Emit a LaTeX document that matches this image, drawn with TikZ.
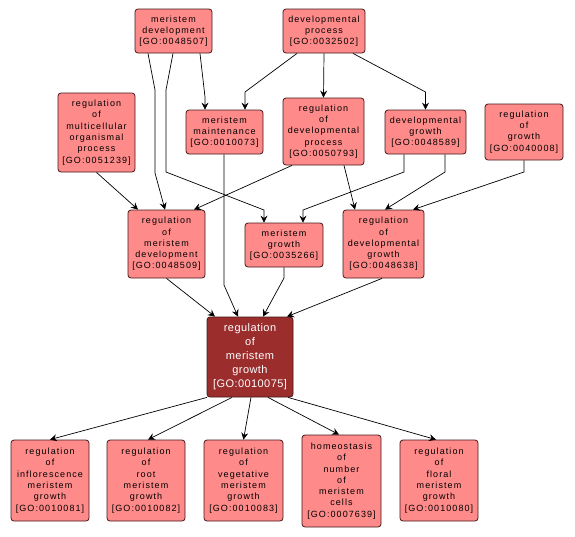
\documentclass[tikz,border=0pt]{standalone}
\usepackage{fontspec}
\usepackage{tikz}
\usepackage{xcolor}
\usetikzlibrary{arrows.meta}
\newfontfamily\gofont[LetterSpace=12]{Liberation Sans}
\newfontfamily\gofocus[LetterSpace=4]{Liberation Sans}
\definecolor{termfill}{RGB}{255,138,138}
\definecolor{focusfill}{RGB}{155,45,45}
\definecolor{termline}{RGB}{70,25,25}
\tikzset{
  term/.style={rectangle, rounded corners=3pt, fill=termfill, draw=termline, line width=0.8pt,
    inner sep=0pt, align=center, font=\gofont\fontsize{9}{11.3}\selectfont},
  focus/.style={term, fill=focusfill, text=white, font=\gofocus\fontsize{11}{14}\selectfont},
  link/.style={-{Stealth[length=7pt,width=7pt,inset=2.5pt]}, line width=0.7pt}
}
\begin{document}
\begin{tikzpicture}[x=1pt,y=-1pt]
\useasboundingbox[fill=white] (0,0) rectangle (575,536);
% top row
\node[term, minimum width=77pt, minimum height=44pt] (go48507) at (173.5,31) {meristem\\development\\{[GO:0048507]}};
\node[term, minimum width=82pt, minimum height=44pt] (go32502) at (324,31) {developmental\\process\\{[GO:0032502]}};
% second row
\node[term, minimum width=77pt, minimum height=79pt] (go51239) at (96.5,132.5) {regulation\\of\\multicellular\\organismal\\process\\{[GO:0051239]}};
\node[term, minimum width=77pt, minimum height=44pt] (go10073) at (224.5,132) {meristem\\maintenance\\{[GO:0010073]}};
\node[term, minimum width=81pt, minimum height=67pt] (go50793) at (323.5,131.5) {regulation\\of\\developmental\\process\\{[GO:0050793]}};
\node[term, minimum width=81pt, minimum height=44pt] (go48589) at (425.5,132) {developmental\\growth\\{[GO:0048589]}};
\node[term, minimum width=78pt, minimum height=56pt] (go40008) at (524,132) {regulation\\of\\growth\\{[GO:0040008]}};
% third row
\node[term, minimum width=77pt, minimum height=68pt] (go48509) at (166.5,244) {regulation\\of\\meristem\\development\\{[GO:0048509]}};
\node[term, minimum width=78pt, minimum height=44pt] (go35266) at (284,245) {meristem\\growth\\{[GO:0035266]}};
\node[term, minimum width=81pt, minimum height=68pt] (go48638) at (383.5,244) {regulation\\of\\developmental\\growth\\{[GO:0048638]}};
% the term itself
\node[focus, minimum width=86pt, minimum height=80pt] (go10075) at (250,357) {regulation\\of\\meristem\\growth\\{[GO:0010075]}};
% children
\node[term, minimum width=78pt, minimum height=81pt] (go10081) at (50,480.5) {regulation\\of\\inflorescence\\meristem\\growth\\{[GO:0010081]}};
\node[term, minimum width=78pt, minimum height=81pt] (go10082) at (146,480.5) {regulation\\of\\root\\meristem\\growth\\{[GO:0010082]}};
\node[term, minimum width=79pt, minimum height=81pt] (go10083) at (243.5,480.5) {regulation\\of\\vegetative\\meristem\\growth\\{[GO:0010083]}};
\node[term, minimum width=79pt, minimum height=92pt] (go07639) at (341.5,481) {homeostasis\\of\\number\\of\\meristem\\cells\\{[GO:0007639]}};
\node[term, minimum width=78pt, minimum height=81pt] (go10080) at (439,480.5) {regulation\\of\\floral\\meristem\\growth\\{[GO:0010080]}};

% edges
\draw[link] ([xshift=-25.5pt]go48507.south) -- (155,90) -- (155,173) -- ([xshift=-1.5pt]go48509.north);
\draw[link] ([xshift=-0.5pt]go48507.south) -- (166,90) -- (166,172) -- (264,210) -- ([xshift=-20pt]go35266.north);
\draw[link] ([xshift=26.5pt]go48507.south) -- (205,97) -- ([xshift=-19.5pt]go10073.north);
\draw[link] ([xshift=-27pt]go32502.south) -- (245,92) -- ([xshift=20.5pt]go10073.north);
\draw[link] (go32502.south) -- (go50793.north);
\draw[link] ([xshift=29pt]go32502.south) -- (425.5,92) -- (go48589.north);
\draw[link] (go51239.south) -- ([xshift=-28.5pt]go48509.north);
\draw[link] ([xshift=-31.5pt]go50793.south) -- ([xshift=27.5pt]go48509.north);
\draw[link] ([xshift=20.5pt]go50793.south) -- ([xshift=-28.5pt]go48638.north);
\draw[link] ([xshift=-21.5pt]go48589.south) -- (404,172) -- (303,210) -- ([xshift=19pt]go35266.north);
\draw[link] ([xshift=19.5pt]go48589.south) -- (445,172) -- ([xshift=1.5pt]go48638.north);
\draw[link] (go40008.south) -- (524,172) -- ([xshift=29.5pt]go48638.north);
\draw[link] ([xshift=-0.5pt]go10073.south) -- (224,285) -- ([xshift=-12pt]go10075.north);
\draw[link] (go48509.south) -- ([xshift=-35pt]go10075.north);
\draw[link] (go35266.south) -- (284,278) -- ([xshift=13pt]go10075.north);
\draw[link] ([xshift=-1.5pt]go48638.south) -- ([xshift=37pt]go10075.north);
\draw[link] ([xshift=-43pt]go10075.south) -- (go10081.north);
\draw[link] ([xshift=-18pt]go10075.south) -- ([xshift=2pt]go10082.north);
\draw[link] ([xshift=1pt]go10075.south) -- (go10083.north);
\draw[link] ([xshift=18pt]go10075.south) -- ([xshift=-2.5pt]go07639.north);
\draw[link] ([xshift=38pt]go10075.south) -- ([xshift=-3pt]go10080.north);
\end{tikzpicture}
\end{document}
